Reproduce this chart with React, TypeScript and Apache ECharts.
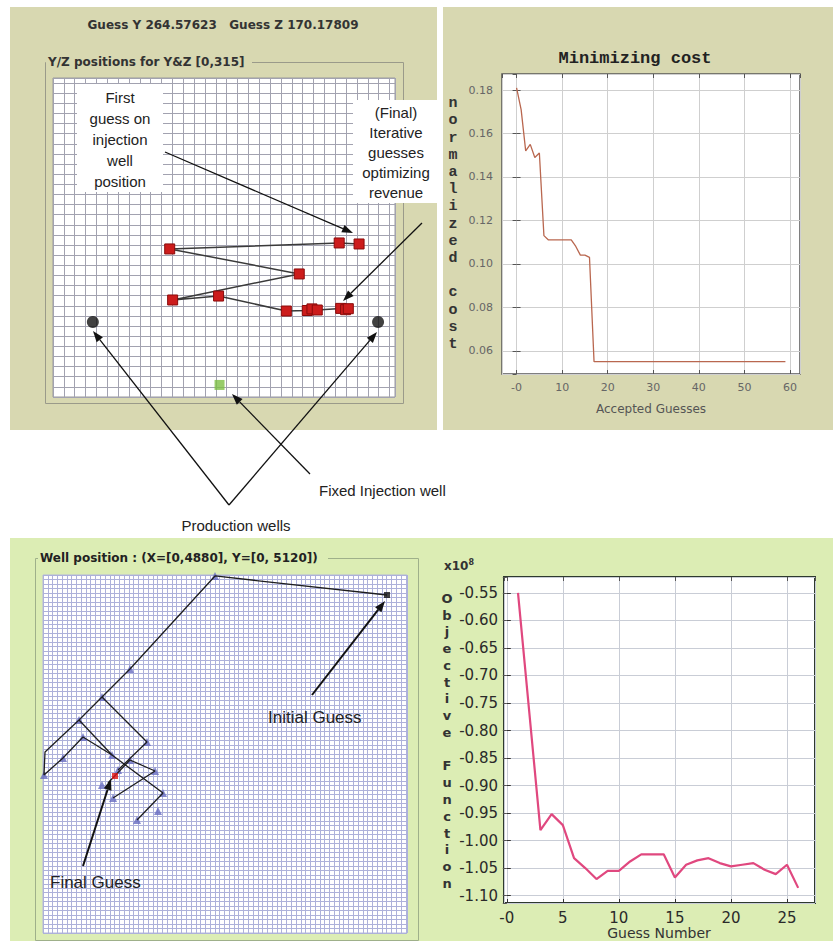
import React, { useEffect, useRef } from 'react';
import * as echarts from 'echarts';

// ---------- Top-left: Y/Z positions of injection well guesses ----------
const guessYPath = [281.9, 263.6, 107.5, 226.8, 110.2, 152.5, 214.9, 234.2, 238.5, 243.4, 265.0, 269.5, 272.0];
const guessZPath = [151.1, 152.1, 146.2, 121.5, 95.8, 99.7, 84.9, 85.4, 87.0, 85.9, 87.5, 86.2, 87.2];
const productionY = [36.7, 299.4];
const productionZ = [74.1, 74.1];
const injectionY = [153.4];
const injectionZ = [11.9];

// ---------- Top-right: Minimizing cost ----------
const acceptedGuesses = [
  0, 1, 2, 3, 4, 5, 6, 7, 8, 9, 10, 11, 12, 13, 14, 15, 16, 17, 18, 19,
  20, 21, 22, 23, 24, 25, 26, 27, 28, 29, 30, 31, 32, 33, 34, 35, 36, 37, 38, 39,
  40, 41, 42, 43, 44, 45, 46, 47, 48, 49, 50, 51, 52, 53, 54, 55, 56, 57, 58, 59,
];
const normalizedCost = [
  0.181, 0.171, 0.152, 0.155, 0.149, 0.151, 0.113, 0.111, 0.111, 0.111,
  0.111, 0.111, 0.111, 0.108, 0.104, 0.104, 0.103, 0.055, 0.055, 0.055,
  0.055, 0.055, 0.055, 0.055, 0.055, 0.055, 0.055, 0.055, 0.055, 0.055,
  0.055, 0.055, 0.055, 0.055, 0.055, 0.055, 0.055, 0.055, 0.055, 0.055,
  0.055, 0.055, 0.055, 0.055, 0.055, 0.055, 0.055, 0.055, 0.055, 0.055,
  0.055, 0.055, 0.055, 0.055, 0.055, 0.055, 0.055, 0.055, 0.055, 0.055,
];
const costYTicks = [0.06, 0.08, 0.10, 0.12, 0.14, 0.16, 0.18];

// ---------- Bottom-left: well position search ----------
const trackMain = [[4612, 4834], [2306, 5106], [1166, 3776], [791, 3375], [483, 3046], [27, 2589], [13, 2260], [268, 2503], [536, 2803], [925, 2546], [1609, 2002], [1260, 1616]];
const trackB = [[791, 3375], [1394, 2732], [1006, 2331]];
const trackC = [[483, 3046], [925, 2546]];
const trackD = [[1166, 2474], [1502, 2317], [939, 1931]];
const trackE = [[1166, 2474], [871, 2145]];
const trackMarkers = [[2306, 5106], [1166, 3776], [791, 3375], [483, 3046], [13, 2260], [268, 2503], [536, 2803], [925, 2546], [1394, 2732], [1166, 2474], [1502, 2317], [939, 1931], [1609, 2002], [1542, 1745], [1260, 1616], [791, 2117], [1006, 2331]];
const initialGuess = [[4612, 4834]];
const finalGuess = [[965, 2245]];

// ---------- Bottom-right: objective function ----------
const guessNumber = [1, 3, 4, 5, 6, 7, 8, 9, 10, 11, 12, 13, 14, 15, 16, 17, 18, 19, 20, 21, 22, 23, 24, 25, 26];
const objectiveValue = [-0.55, -0.981, -0.952, -0.972, -1.032, -1.05, -1.07, -1.055, -1.055, -1.038, -1.025, -1.025, -1.025, -1.067, -1.044, -1.036, -1.032, -1.041, -1.047, -1.044, -1.041, -1.053, -1.061, -1.044, -1.086];

const KHAKI = '#d8d8b1';
const GREEN = '#dcedb4';
const SANS = '"Liberation Sans", Arial, sans-serif';
const DEJAVU = '"DejaVu Sans", sans-serif';
const MONO = '"Liberation Mono", "DejaVu Sans Mono", monospace';

function arrow(x1: number, y1: number, x2: number, y2: number, head = 11, w = 8, color = '#111', lw = 1.3) {
  const ang = Math.atan2(y2 - y1, x2 - x1);
  const bx = x2 - head * Math.cos(ang);
  const by = y2 - head * Math.sin(ang);
  const px = (-Math.sin(ang) * w) / 2;
  const py = (Math.cos(ang) * w) / 2;
  return [
    { type: 'line', z: 80, silent: true, shape: { x1, y1, x2: bx, y2: by }, style: { stroke: color, lineWidth: lw } },
    { type: 'polygon', z: 80, silent: true, shape: { points: [[x2, y2], [bx + px, by + py], [bx - px, by - py]] }, style: { fill: color } },
  ];
}

function text(x: number, y: number, t: string, font: string, opts: any = {}) {
  return {
    type: 'text', x, y, z: opts.z ?? 70, silent: true,
    style: {
      text: t, font, fill: opts.fill ?? '#222',
      textAlign: opts.align ?? 'left', textVerticalAlign: opts.valign ?? 'middle',
      lineHeight: opts.lineHeight,
    },
  };
}

function zip(a: number[], b: number[]) {
  return a.map((v, i) => [v, b[i]]);
}

function buildOption(): any {
  const mirrorX = (gridIndex: number, min: number, max: number, split: number) => ({
    type: 'value', gridIndex, position: 'top', min, max, splitNumber: split,
    axisLine: { show: false }, axisLabel: { show: false }, splitLine: { show: false },
    axisTick: { show: true, inside: true, length: 4, lineStyle: { color: '#555' } },
  });
  const mirrorY = (gridIndex: number, min: number, max: number, split: number) => ({
    type: 'value', gridIndex, position: 'right', min, max, splitNumber: split,
    axisLine: { show: false }, axisLabel: { show: false }, splitLine: { show: false },
    axisTick: { show: true, inside: true, length: 4, lineStyle: { color: '#555' } },
  });
  const hiddenGridAxis = (gridIndex: number, max: number, interval: number, color: string) => ({
    type: 'value', gridIndex, min: 0, max, interval,
    axisLine: { show: false }, axisTick: { show: false }, axisLabel: { show: false },
    splitLine: { show: true, lineStyle: { color, width: 1 } },
  });
  const zeroFmt = (v: number) => (v === 0 ? '-0' : String(v));

  const graphic: any[] = [
    // panels
    { type: 'rect', z: -10, silent: true, shape: { x: 10, y: 7, width: 427, height: 423 }, style: { fill: KHAKI } },
    { type: 'rect', z: -10, silent: true, shape: { x: 443, y: 7, width: 390, height: 423 }, style: { fill: KHAKI } },
    { type: 'rect', z: -10, silent: true, shape: { x: 10, y: 538, width: 823, height: 403 }, style: { fill: GREEN } },
    // group frames
    { type: 'rect', z: -5, silent: true, shape: { x: 45.5, y: 62.5, width: 358, height: 341 }, style: { fill: 'none', stroke: '#9a9a8a', lineWidth: 1 } },
    { type: 'rect', z: -4, silent: true, shape: { x: 46, y: 55, width: 206, height: 14 }, style: { fill: KHAKI } },
    { type: 'rect', z: -5, silent: true, shape: { x: 35.5, y: 558.5, width: 383, height: 382 }, style: { fill: 'none', stroke: '#9fb08a', lineWidth: 1 } },
    { type: 'rect', z: -4, silent: true, shape: { x: 38, y: 551, width: 290, height: 14 }, style: { fill: GREEN } },
    // headers
    text(223, 25, 'Guess Y 264.57623   Guess Z 170.17809', `bold 12px ${DEJAVU}`, { align: 'center', fill: '#333' }),
    text(48, 62, 'Y/Z positions for Y&Z [0,315]', `bold 12px ${DEJAVU}`, { fill: '#333' }),
    text(40, 558, 'Well position : (X=[0,4880], Y=[0, 5120])', `bold 12px ${DEJAVU}`, { fill: '#222' }),
    text(635, 58, 'Minimizing cost', `bold 17px ${MONO}`, { align: 'center', fill: '#222' }),
    text(453, 95, 'n\no\nr\nm\na\nl\ni\nz\ne\nd\n \nc\no\ns\nt', `bold 15px ${MONO}`, { align: 'center', valign: 'top', lineHeight: 17.2, fill: '#333' }),
    text(651, 409, 'Accepted Guesses', `12px ${DEJAVU}`, { align: 'center', fill: '#555' }),
    text(447, 590, 'O\nb\nj\ne\nc\nt\ni\nv\ne\n \nF\nu\nn\nc\nt\ni\no\nn', `bold 13px ${DEJAVU}`, { align: 'center', valign: 'top', lineHeight: 16.76, fill: '#333' }),
    {
      type: 'text', x: 444, y: 566, z: 70, silent: true,
      style: {
        text: '{a|x10}{b|8}', textVerticalAlign: 'middle',
        rich: { a: { font: `bold 12px ${DEJAVU}`, fill: '#333' }, b: { font: `bold 8px ${DEJAVU}`, fill: '#333', verticalAlign: 'top', padding: [0, 0, 8, 0] } },
      },
    },
    text(659, 933, 'Guess Number', `14px ${DEJAVU}`, { align: 'center', fill: '#333' }),
    // annotation boxes
    { type: 'rect', z: 60, silent: true, shape: { x: 77, y: 84, width: 86, height: 108 }, style: { fill: '#fff' } },
    { type: 'rect', z: 60, silent: true, shape: { x: 353, y: 100, width: 84, height: 103 }, style: { fill: '#fff' } },
    text(120, 87, 'First\nguess on\ninjection\nwell\nposition', `15px ${SANS}`, { align: 'center', valign: 'top', lineHeight: 21, fill: '#222' }),
    text(396, 102, '(Final)\nIterative\nguesses\noptimizing\nrevenue', `15px ${SANS}`, { align: 'center', valign: 'top', lineHeight: 20, fill: '#222' }),
    text(319, 490, 'Fixed Injection well', `15px ${SANS}`, { fill: '#222' }),
    text(236, 525, 'Production wells', `15px ${SANS}`, { align: 'center', fill: '#222' }),
    text(268, 717, 'Initial Guess', `17px ${SANS}`, { fill: '#222' }),
    text(50, 882, 'Final Guess', `17px ${SANS}`, { fill: '#222' }),
    ...arrow(165, 152, 353, 233),
    ...arrow(422, 223, 343, 301),
    ...arrow(229, 505, 93, 331),
    ...arrow(229, 505, 377, 332),
    ...arrow(310, 474, 232, 394),
    ...arrow(312, 695, 385, 601, 11, 8, '#111', 2),
    ...arrow(83, 866, 111, 779, 11, 8, '#111', 2),
  ];

  return {
    animation: false,
    backgroundColor: '#ffffff',
    grid: [
      { left: 53, top: 78, width: 342, height: 319, show: true, backgroundColor: '#fff', borderColor: '#9a9a9a', borderWidth: 1 },
      { left: 502, top: 74, width: 298, height: 300, show: true, backgroundColor: '#fff', borderColor: '#555', borderWidth: 1.5 },
      { left: 43, top: 575, width: 364, height: 358, show: true, backgroundColor: '#fff', borderColor: '#b5b9dc', borderWidth: 1 },
      { left: 504, top: 577, width: 311, height: 326, show: true, backgroundColor: '#fff', borderColor: '#2e3a2e', borderWidth: 2 },
    ],
    xAxis: [
      hiddenGridAxis(0, 315, 10, '#a2a2b0'),
      {
        type: 'value', gridIndex: 1, min: -3.2, max: 62.2, splitNumber: 6,
        axisLine: { show: false },
        axisTick: { show: true, inside: true, length: 4, lineStyle: { color: '#555' } },
        axisLabel: { formatter: zeroFmt, color: '#666', fontSize: 11, fontFamily: DEJAVU, margin: 8, showMinLabel: false, showMaxLabel: false },
        splitLine: { show: true, lineStyle: { color: '#cfcfcf' } },
      },
      mirrorX(1, -3.2, 62.2, 6),
      hiddenGridAxis(2, 4880, 64, '#adb1da'),
      {
        type: 'value', gridIndex: 3, min: -0.25, max: 27.5, splitNumber: 5,
        axisLine: { show: false },
        axisTick: { show: true, inside: true, length: 4, lineStyle: { color: '#333' } },
        axisLabel: { formatter: zeroFmt, color: '#2a2a2a', fontSize: 15, fontFamily: DEJAVU, margin: 7, showMinLabel: false, showMaxLabel: false },
        splitLine: { show: true, lineStyle: { color: '#c9cdd6' } },
      },
      mirrorX(3, -0.25, 27.5, 5),
    ],
    yAxis: [
      hiddenGridAxis(0, 315, 10, '#a2a2b0'),
      {
        type: 'value', gridIndex: 1, min: 0.0493, max: 0.1874, splitNumber: 7,
        axisLine: { show: false },
        axisTick: { show: true, inside: true, length: 4, lineStyle: { color: '#555' } },
        axisLabel: {
          color: '#666', fontSize: 11, fontFamily: DEJAVU, margin: 9, showMinLabel: false, showMaxLabel: false,
          formatter: (v: number) => (costYTicks.some((t) => Math.abs(t - v) < 1e-6) ? v.toFixed(2) : ''),
        },
        splitLine: { show: true, lineStyle: { color: '#cfcfcf' } },
      },
      mirrorY(1, 0.0493, 0.1874, 7),
      hiddenGridAxis(2, 5120, 64, '#adb1da'),
      {
        type: 'value', gridIndex: 3, min: -1.1135, max: -0.521, splitNumber: 11,
        axisLine: { show: false },
        axisTick: { show: true, inside: true, length: 4, lineStyle: { color: '#333' } },
        axisLabel: { color: '#2a2a2a', fontSize: 15, fontFamily: DEJAVU, margin: 6, showMinLabel: false, showMaxLabel: false, formatter: (v: number) => v.toFixed(2) },
        splitLine: { show: true, lineStyle: { color: '#c9cdd6' } },
      },
      mirrorY(3, -1.1135, -0.521, 11),
    ],
    series: [
      {
        type: 'line', xAxisIndex: 0, yAxisIndex: 0, data: zip(guessYPath, guessZPath),
        symbol: 'rect', symbolSize: 10, showSymbol: true,
        itemStyle: { color: '#cc1c1c', borderColor: '#8a0a0a', borderWidth: 1 },
        lineStyle: { color: '#3a3a3a', width: 1.5 }, silent: true,
      },
      {
        type: 'scatter', xAxisIndex: 0, yAxisIndex: 0, data: zip(productionY, productionZ),
        symbol: 'circle', symbolSize: 12, itemStyle: { color: '#111' }, silent: true,
      },
      {
        type: 'scatter', xAxisIndex: 0, yAxisIndex: 0, data: zip(injectionY, injectionZ),
        symbol: 'rect', symbolSize: 10, itemStyle: { color: '#7dbf45' }, silent: true,
      },
      {
        type: 'line', xAxisIndex: 1, yAxisIndex: 1, data: zip(acceptedGuesses, normalizedCost),
        showSymbol: false, symbol: 'none', lineStyle: { color: '#b9674f', width: 1.3 }, silent: true,
      },
      ...[trackMain, trackB, trackC, trackD, trackE].map((seg) => ({
        type: 'line', xAxisIndex: 3, yAxisIndex: 3, data: seg,
        showSymbol: false, symbol: 'none', lineStyle: { color: '#1e1e1e', width: 1.3 }, silent: true,
      })),
      {
        type: 'scatter', xAxisIndex: 3, yAxisIndex: 3, data: trackMarkers,
        symbol: 'triangle', symbolSize: 8, itemStyle: { color: '#676cc0' }, silent: true,
      },
      {
        type: 'scatter', xAxisIndex: 3, yAxisIndex: 3, data: initialGuess,
        symbol: 'rect', symbolSize: 6, itemStyle: { color: '#111' }, silent: true,
      },
      {
        type: 'scatter', xAxisIndex: 3, yAxisIndex: 3, data: finalGuess, z: 5,
        symbol: 'rect', symbolSize: 6, itemStyle: { color: '#e01010' }, silent: true,
      },
      {
        type: 'line', xAxisIndex: 4, yAxisIndex: 4, data: zip(guessNumber, objectiveValue),
        showSymbol: false, symbol: 'none', lineStyle: { color: '#e0487f', width: 2.2 }, silent: true,
      },
    ],
    graphic: { elements: graphic },
  };
}

export default function App() {
  const ref = useRef<HTMLDivElement>(null);
  useEffect(() => {
    if (!ref.current) return;
    const chart = echarts.init(ref.current, undefined, { renderer: 'svg' });
    chart.setOption(buildOption());
    return () => chart.dispose();
  }, []);
  return (
    <div
      ref={ref}
      style={{ position: 'absolute', left: 0, top: 0, width: 833, height: 941, background: '#fff' }}
    />
  );
}
